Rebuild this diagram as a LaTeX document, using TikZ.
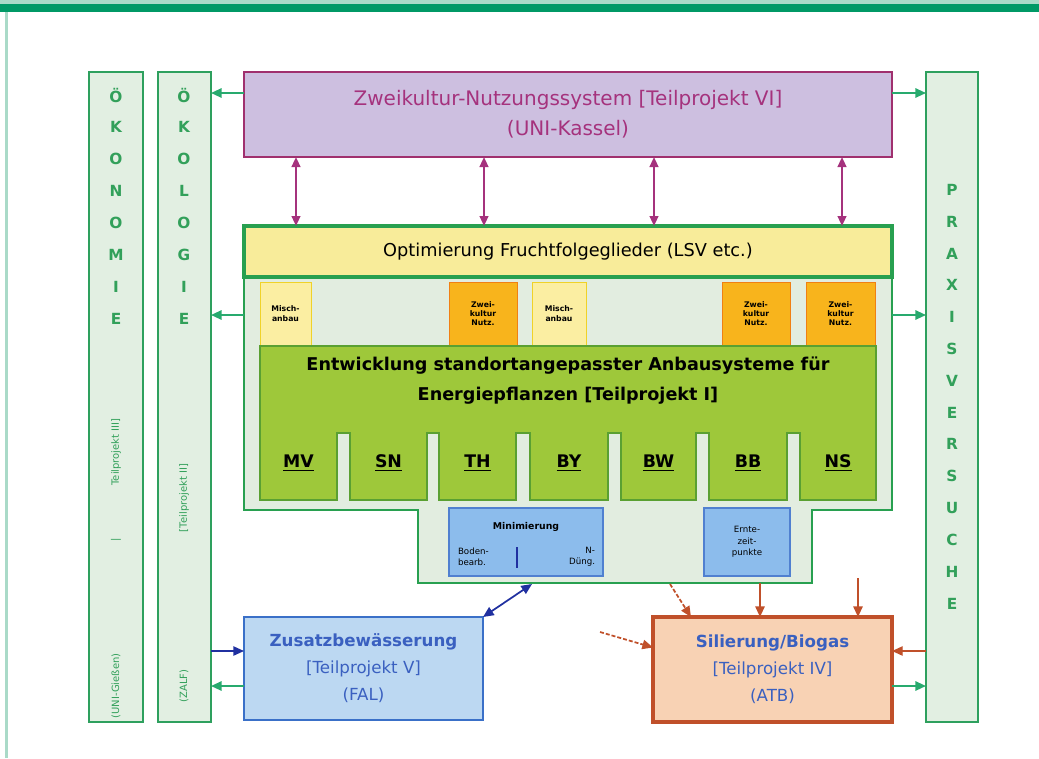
\documentclass[tikz,border=0pt]{standalone}
\usepackage{fontspec}
\setmainfont{DejaVu Sans}
\usetikzlibrary{arrows.meta,calc}
\definecolor{topdark}{RGB}{0,153,102}
\definecolor{toplight}{RGB}{170,218,200}
\definecolor{colfill}{RGB}{226,239,226}
\definecolor{colborder}{RGB}{46,160,94}
\definecolor{coltext}{RGB}{50,160,90}
\definecolor{purfill}{RGB}{205,191,224}
\definecolor{purborder}{RGB}{160,48,110}
\definecolor{purtext}{RGB}{165,50,125}
\definecolor{contfill}{RGB}{226,237,224}
\definecolor{contborder}{RGB}{40,160,80}
\definecolor{barfill}{RGB}{248,236,154}
\definecolor{lyfill}{RGB}{251,238,162}
\definecolor{lyborder}{RGB}{240,210,40}
\definecolor{orfill}{RGB}{248,180,28}
\definecolor{orborder}{RGB}{240,128,20}
\definecolor{gmfill}{RGB}{158,200,58}
\definecolor{gmborder}{RGB}{90,160,50}
\definecolor{mbfill}{RGB}{140,188,236}
\definecolor{mbborder}{RGB}{80,128,208}
\definecolor{zusfill}{RGB}{188,216,242}
\definecolor{zusborder}{RGB}{58,112,200}
\definecolor{bluetext}{RGB}{58,96,192}
\definecolor{silfill}{RGB}{248,210,180}
\definecolor{silborder}{RGB}{192,80,42}
\definecolor{rust}{RGB}{192,80,42}
\definecolor{darkblue}{RGB}{32,48,160}
\definecolor{gline}{RGB}{40,170,110}
\begin{document}
\begin{tikzpicture}[x=0.75pt,y=-0.75pt,
  every node/.style={outer sep=0pt,inner sep=0pt},
  nwbox/.style={anchor=north west},
  colbox/.style={nwbox,draw=colborder,fill=colfill,line width=2.2pt},
  colletter/.style={text=coltext,font=\bfseries\fontsize{11.5}{11.5}\selectfont},
  coltiny/.style={text=coltext,font=\fontsize{7.5}{8}\selectfont,rotate=90},
  smallbox/.style={nwbox,minimum height=47.25pt,font=\bfseries\fontsize{5.8}{7}\selectfont,align=center},
  lybox/.style={smallbox,fill=lyfill,draw=lyborder,line width=0.6pt},
  orbox/.style={smallbox,fill=orfill,draw=orborder,line width=0.6pt},
  mbox/.style={nwbox,fill=mbfill,draw=mbborder,line width=0.8pt,minimum height=51pt},
  mtext/.style={font=\fontsize{6.5}{8}\selectfont,align=center},
  regionlbl/.style={font=\bfseries\fontsize{13}{13}\selectfont},
  garrow/.style={draw=gline,line width=1.5pt,-{Triangle[length=8pt,width=7pt]}},
  parrow/.style={draw=purtext,line width=1.6pt,{Triangle[length=7.5pt,width=6.5pt]}-{Triangle[length=7.5pt,width=6.5pt]}},
  rarrow/.style={draw=rust,line width=1.3pt,-{Triangle[length=8pt,width=7pt]}},
  barrow/.style={draw=darkblue,line width=1.1pt,-{Triangle[length=8pt,width=7pt]}}
]
\useasboundingbox (0,0) rectangle (1039,758);
% top band
\fill[toplight] (0,0) rectangle (1039,4);
\fill[topdark] (0,4) rectangle (1039,12);
\fill[toplight] (5,12) rectangle (8,758);

% side columns
\node[colbox,minimum width=40.5pt,minimum height=487.5pt] (oekon) at (89,72) {};
\node[colbox,minimum width=39.75pt,minimum height=487.5pt] (oekol) at (158,72) {};
\node[colbox,minimum width=39pt,minimum height=487.5pt] (praxis) at (926,72) {};

\foreach \l [count=\i] in {Ö,K,O,N,O,M,I,E}
  \node[colletter] (okn\i) at (116,{95+32*(\i-1)}) {\l};
\foreach \l [count=\i] in {Ö,K,O,L,O,G,I,E}
  \node[colletter] (okl\i) at (184,{95+32*(\i-1)}) {\l};
\foreach \l [count=\i] in {P,R,A,X,I,S,V,E,R,S,U,C,H,E}
  \node[colletter] (pr\i) at (952,{190+31.8*(\i-1)}) {\l};

\node[coltiny] (oknA) at (116,686) {(UNI-Gießen)};
\node[coltiny] (oknB) at (116,540) {|};
\node[coltiny] (oknC) at (116,452) {Teilprojekt III]};
\node[coltiny] (oklA) at (184,686) {(ZALF)};
\node[coltiny] (oklB) at (184,498) {[Teilprojekt II]};

% purple box
\node[nwbox,draw=purborder,fill=purfill,line width=2.2pt,minimum width=486pt,minimum height=63.75pt,
  text=purtext,font=\fontsize{15}{22.5}\selectfont,align=center] (purple) at (244,72)
  {Zweikultur-Nutzungssystem [Teilprojekt VI]\\(UNI-Kassel)};

% container
\node[nwbox,minimum width=486pt,minimum height=213pt] (cont) at (244,226) {};
\filldraw[fill=contfill,draw=contborder,line width=1.6pt]
  (244,226) -- (892,226) -- (892,510) -- (812,510) -- (812,583) -- (418,583) -- (418,510) -- (244,510) -- cycle;
\node[nwbox,minimum width=295.5pt,minimum height=54.75pt] (contlow) at (418,510) {};

% yellow bar
\node[nwbox,draw=contborder,fill=barfill,line width=2.8pt,minimum width=486pt,minimum height=38.25pt,
  font=\fontsize{13.3}{13.3}\selectfont] (bar) at (244,226) {Optimierung Fruchtfolgeglieder (LSV etc.)};

% small boxes
\node[lybox,minimum width=38.25pt] (b1) at (260,282) {Misch-\\anbau};
\node[orbox,minimum width=51pt] (b2) at (449,282) {Zwei-\\kultur\\Nutz.};
\node[lybox,minimum width=40.5pt] (b3) at (532,282) {Misch-\\anbau};
\node[orbox,minimum width=51pt] (b4) at (722,282) {Zwei-\\kultur\\Nutz.};
\node[orbox,minimum width=51.75pt] (b5) at (806,282) {Zwei-\\kultur\\Nutz.};

% green main block
\filldraw[fill=gmfill,draw=gmborder,line width=1.2pt]
  (260,346) -- (876,346) -- (876,500) -- (800,500) -- (800,433) -- (787,433) -- (787,500)
  -- (709,500) -- (709,433) -- (696,433) -- (696,500) -- (621,500) -- (621,433) -- (608,433)
  -- (608,500) -- (530,500) -- (530,433) -- (516,433) -- (516,500) -- (439,500) -- (439,433)
  -- (427,433) -- (427,500) -- (350,500) -- (350,433) -- (337,433) -- (337,500) -- (260,500) -- cycle;
\node[font=\bfseries\fontsize{13.2}{22.5}\selectfont,align=center] (ttl) at (568,381)
  {Entwicklung standortangepasster Anbausysteme für\\{}Energiepflanzen [Teilprojekt I]};
\foreach \t/\x [count=\i] in {MV/298.5,SN/388.5,TH/477.5,BY/569,BW/658.5,BB/748,NS/838}
  \node[regionlbl] (reg\i) at (\x,463) {\underline{\t}};

% blue small boxes
\node[mbox,minimum width=115.5pt] (m1) at (449,508) {};
\node[mtext,font=\bfseries\fontsize{7}{8}\selectfont] (m1t) at (526,527) {Minimierung};
\node[mtext,anchor=west,align=left] (m1a) at (458,557) {Boden-\\bearb.};
\node[mtext,anchor=east,align=right] (m1b) at (595,557) {N-\\Düng.};
\draw[darkblue,line width=0.9pt] (517,547) -- (517,568);
\node[mbox,minimum width=64.5pt,font=\fontsize{6.5}{8.5}\selectfont,align=center] (m2) at (704,508) {Ernte-\\zeit-\\punkte};

% bottom boxes
\node[nwbox,draw=zusborder,fill=zusfill,line width=2pt,minimum width=179.25pt,minimum height=77.25pt,
  text=bluetext,font=\fontsize{12.5}{20.3}\selectfont,align=center] (zus) at (244,617)
  {\textbf{Zusatzbewässerung}\\{}[Teilprojekt V]\\(FAL)};
\node[nwbox,draw=silborder,fill=silfill,line width=2.4pt,minimum width=179.25pt,minimum height=78.75pt,
  text=bluetext,font=\fontsize{12.5}{20.3}\selectfont,align=center] (sil) at (653,617)
  {\textbf{Silierung/Biogas}\\{}[Teilprojekt IV]\\(ATB)};

% helper coordinates
\coordinate (ya) at (0,93);
\coordinate (yb) at (0,315);
\coordinate (yc) at (0,651);
\coordinate (yd) at (0,686);
\coordinate (x1) at (296,0);
\coordinate (x2) at (484,0);
\coordinate (x3) at (654,0);
\coordinate (x4) at (842,0);
\coordinate (x5) at (760,0);
\coordinate (free1) at (858,578);
\coordinate (free2) at (600,632);
\coordinate (bd) at (532,584);
\coordinate (rd) at (670,584);

% arrows
\draw[garrow] (purple.west |- ya) -- (oekol.east |- ya);
\draw[garrow] (purple.east |- ya) -- (praxis.west |- ya);
\draw[garrow] (cont.west |- yb) -- (oekol.east |- yb);
\draw[garrow] (cont.east |- yb) -- (praxis.west |- yb);
\foreach \c in {x1,x2,x3,x4}
  \draw[parrow] (purple.south -| \c) -- (bar.north -| \c);
\draw[barrow] (oekol.east |- yc) -- (zus.west |- yc);
\draw[garrow] (zus.west |- yd) -- (oekol.east |- yd);
\draw[garrow] (sil.east |- yd) -- (praxis.west |- yd);
\draw[rarrow,line width=1pt] (praxis.west |- yc) -- (sil.east |- yc);
\draw[draw=darkblue,line width=1.3pt,{Triangle[length=8pt,width=7pt]}-{Triangle[length=8pt,width=7pt]}]
  (zus.north east) -- (bd);
\draw[rarrow,dash pattern=on 3pt off 1.5pt] (rd) -- ($(sil.north west)+(38,0)$);
\draw[rarrow] (contlow.south -| x5) -- (sil.north -| x5);
\draw[rarrow] (free1) -- (sil.north -| free1);
\draw[rarrow,dash pattern=on 3pt off 1.5pt] (free2) -- ($(sil.west)+(0,-22)$);
\end{tikzpicture}
\end{document}
